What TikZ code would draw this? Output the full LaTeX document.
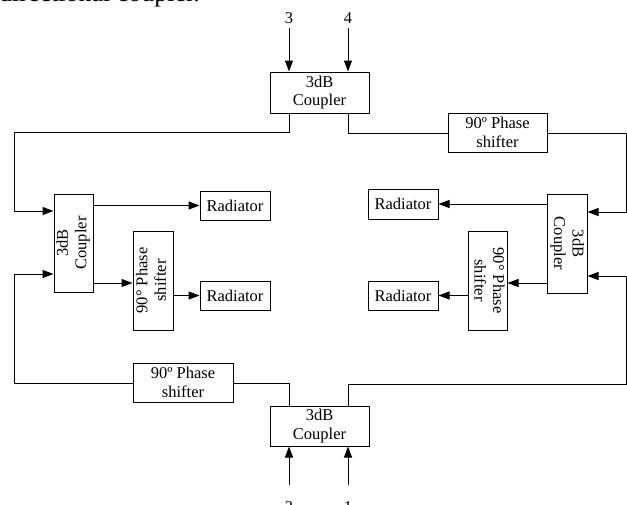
\documentclass[tikz,border=0pt]{standalone}
\usepackage{fontspec}
\setmainfont{Liberation Serif}
\usetikzlibrary{arrows.meta}
\begin{document}
\begin{tikzpicture}[x=1pt,y=-1pt,
  box/.style={draw, line width=1pt, inner sep=0pt, align=center, font=\fontsize{16.5}{18.5}\selectfont},
  conn/.style={line width=1pt},
  arr/.style={conn, -{Triangle[length=11pt,width=8pt]}},
  lbl/.style={font=\fontsize{16.5}{18.5}\selectfont, inner sep=0pt}]
\useasboundingbox (0,0) rectangle (627,504);

% cut caption line at the top
\node[anchor=base west, inner sep=0pt, font=\fontsize{26}{30}\selectfont] (cap) at (-1,1) {directional coupler.};

% couplers
\node[box, minimum width=99pt, minimum height=41pt] (TC) at (319.5,92.5) {3dB\\Coupler};
\node[box, minimum width=99pt, minimum height=40pt] (BC) at (319.5,426) {3dB\\Coupler};
\node[box, minimum width=39pt, minimum height=98pt] (LC) at (73.5,243)
  {\rotatebox{90}{\begin{tabular}{@{}c@{}}3dB\\Coupler\end{tabular}}};
\node[box, minimum width=40pt, minimum height=99pt] (RC) at (567,243.5)
  {\rotatebox{-90}{\begin{tabular}{@{}c@{}}3dB\\Coupler\end{tabular}}};

% phase shifters
\node[box, minimum width=99pt, minimum height=39pt] (TS) at (497.5,132.5) {90º Phase\\shifter};
\node[box, minimum width=100pt, minimum height=39pt] (BS) at (183,382.5) {90º Phase\\shifter};
\node[box, minimum width=40pt, minimum height=99pt] (LS) at (153,280.5)
  {\rotatebox{90}{\begin{tabular}{@{}c@{}}90° Phase\\shifter\end{tabular}}};
\node[box, minimum width=39pt, minimum height=99pt] (RS) at (487.5,280.5)
  {\rotatebox{-90}{\begin{tabular}{@{}c@{}}90° Phase\\shifter\end{tabular}}};

% radiators
\node[box, minimum width=70pt, minimum height=29pt] (LR1) at (235,205.5) {Radiator};
\node[box, minimum width=70pt, minimum height=29pt] (LR2) at (235,295.5) {Radiator};
\node[box, minimum width=70pt, minimum height=30pt] (RR1) at (403,204) {Radiator};
\node[box, minimum width=70pt, minimum height=29pt] (RR2) at (403,295.5) {Radiator};

% port labels
\node[lbl] (l3) at (289,18) {3};
\node[lbl] (l4) at (348,18) {4};
\node[lbl] (l2) at (289,507.5) {2};
\node[lbl] (l1) at (348,507.5) {1};
\coordinate (p3) at (289,28);
\coordinate (p4) at (348,28);
\coordinate (p2) at (289,485);
\coordinate (p1) at (348,485);

% input arrows
\draw[arr] (p3) -- (p3 |- TC.north);
\draw[arr] (p4) -- (p4 |- TC.north);
\draw[arr] (p2) -- (p2 |- BC.south);
\draw[arr] (p1) -- (p1 |- BC.south);

% top coupler outputs
\draw[arr] (p3 |- TC.south) -- (289,132) -- (14,132) -- (14,211) -- (LC.west |- 0,211);
\draw[conn] (p4 |- TC.south) -- (348,133) -- (TS.west |- 0,133);
\draw[arr] (TS.east |- 0,133) -- (626,133) -- (626,212) -- (RC.east |- 0,212);

% bottom coupler outputs
\draw[conn] (p2 |- BC.north) -- (289,383) -- (BS.east |- 0,383);
\draw[arr] (BS.west |- 0,383) -- (14,383) -- (14,274) -- (LC.west |- 0,274);
\draw[arr] (p1 |- BC.north) -- (348,384) -- (626,384) -- (626,276) -- (RC.east |- 0,276);

% side couplers to radiators
\draw[arr] (LC.east |- LR1.west) -- (LR1.west);
\draw[arr] (RC.west |- RR1.east) -- (RR1.east);
\draw[arr] (LC.east |- 0,283) -- (LS.west |- 0,283);
\draw[arr] (RC.west |- 0,283) -- (RS.east |- 0,283);
\draw[arr] (LS.east |- LR2.west) -- (LR2.west);
\draw[arr] (RS.west |- RR2.east) -- (RR2.east);
\end{tikzpicture}
\end{document}
